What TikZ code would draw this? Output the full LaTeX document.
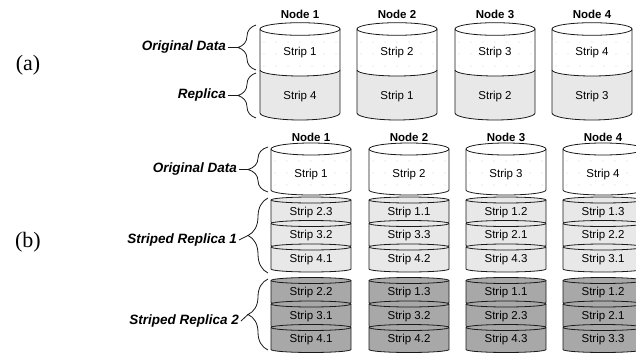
\documentclass[tikz,border=0pt]{standalone}
\usepackage{fontspec}
\setmainfont{Liberation Sans}
\newfontfamily\partfont{Liberation Serif}
\usetikzlibrary{decorations.pathreplacing,calc}
\definecolor{edgegray}{RGB}{25,25,25}
\definecolor{replicalight}{RGB}{232,232,232}
\definecolor{replicadark}{RGB}{168,168,168}
\definecolor{dotgray}{RGB}{212,212,212}
\tikzset{
  cylline/.style={draw=edgegray,line width=0.8pt},
  striptext/.style={font=\fontsize{11.5}{13}\selectfont,inner sep=0pt},
  nodelabel/.style={font=\fontsize{11.5}{13}\selectfont\bfseries,inner sep=0pt},
  bracelabel/.style={font=\fontsize{13.5}{15}\selectfont\bfseries\itshape,anchor=east,inner sep=2pt},
  partlabel/.style={font=\fontsize{22}{24}\selectfont\partfont,inner sep=0pt},
  databrace/.style={decorate,decoration={brace,amplitude=#1},draw=edgegray,line width=0.8pt},
  leadline/.style={draw=edgegray,line width=0.8pt}
}

\begin{document}
\begin{tikzpicture}[x=1pt,y=1pt]
\useasboundingbox (0,0) rectangle (636,-353);

% ---------- (a) ----------
\node[partlabel] (part-a) at (28,-65) {(a)};
\foreach \i/\cx/\stA/\stB in {1/300/1/4,2/397/2/1,3/495/3/2,4/592/4/3}{
  % original data part, white with faint dots
  \fill[white] (\cx-40,-29) -- (\cx-40,-70)
    arc[start angle=180,end angle=360,x radius=40,y radius=6]
    -- (\cx+40,-29) arc[start angle=0,end angle=180,x radius=40,y radius=6.3] -- cycle;
  \begin{scope}
    \clip (\cx-40,-29) -- (\cx-40,-70)
      arc[start angle=180,end angle=360,x radius=40,y radius=6] -- (\cx+40,-29) -- cycle;
    \foreach \dx in {-36,-24,...,36}
      \foreach \dy in {-42,-54,-66}
        \fill[dotgray] (\cx+\dx,\dy) circle (0.55);
  \end{scope}
  % replica part
  \fill[replicalight] (\cx-40,-70)
    arc[start angle=180,end angle=360,x radius=40,y radius=6]
    -- (\cx+40,-113) arc[start angle=0,end angle=-180,x radius=40,y radius=7] -- cycle;
  \draw[cylline] (\cx,-29) ellipse[x radius=40,y radius=6.3];
  \draw[cylline] (\cx-40,-29) -- (\cx-40,-113)
    arc[start angle=180,end angle=360,x radius=40,y radius=7] -- (\cx+40,-29);
  \draw[cylline] (\cx-40,-70) arc[start angle=180,end angle=360,x radius=40,y radius=6];
  \node[nodelabel] (a-n\i) at (\cx,-14) {Node \i};
  \node[striptext] (a-od\i) at (\cx,-53) {Strip \stA};
  \node[striptext] (a-rp\i) at (\cx,-97) {Strip \stB};
}

% braces (a)
\coordinate (a-od-bot) at (256,-70);
\coordinate (a-od-top) at (256,-25);
\coordinate (a-od-tip) at (238,-47.5);
\coordinate (a-rp-bot) at (256,-118);
\coordinate (a-rp-top) at (256,-73);
\coordinate (a-rp-tip) at (238,-95.5);
\draw[databrace=18pt] (a-od-bot) -- (a-od-top);
\draw[databrace=18pt] (a-rp-bot) -- (a-rp-top);
\node[bracelabel] (a-od-lbl) at (228,-47.5) {Original Data};
\node[bracelabel] (a-rp-lbl) at (228,-95.5) {Replica};
\draw[leadline] (a-od-lbl.east) -- (a-od-tip);
\draw[leadline] (a-rp-lbl.east) -- (a-rp-tip);

% ---------- (b) ----------
\node[partlabel] (part-b) at (28,-242) {(b)};
\foreach \i/\cx/\ra/\rb/\rc/\sa/\sb/\sc in
  {1/311/2.3/3.2/4.1/2.2/3.1/4.1,2/409/1.1/3.3/4.2/1.3/3.2/4.2,
   3/506/1.2/2.1/4.3/1.1/2.3/4.3,4/603/1.3/2.2/3.1/1.2/2.1/3.3}{
  % original data cylinder
  \fill[white] (\cx-40,-149) -- (\cx-40,-190)
    arc[start angle=180,end angle=360,x radius=40,y radius=5] -- (\cx+40,-149) -- cycle;
  \begin{scope}
    \clip (\cx-40,-149) -- (\cx-40,-190)
      arc[start angle=180,end angle=360,x radius=40,y radius=5] -- (\cx+40,-149) -- cycle;
    \foreach \dx in {-36,-24,...,36}
      \foreach \dy in {-161,-173,-185}
        \fill[dotgray] (\cx+\dx,\dy) circle (0.55);
  \end{scope}
  \draw[cylline,fill=white] (\cx,-149) ellipse[x radius=40,y radius=6];
  \draw[cylline] (\cx-40,-149) -- (\cx-40,-190)
    arc[start angle=180,end angle=360,x radius=40,y radius=5] -- (\cx+40,-149);
  \node[nodelabel] (b-n\i) at (\cx,-137) {Node \i};
  \node[striptext] (b-od\i) at (\cx,-175) {Strip \i};
  % striped replicas, three disks each
  \foreach \grp/\ytop/\col/\la/\lb/\lc in
    {1/-200/replicalight/\ra/\rb/\rc,2/-280.5/replicadark/\sa/\sb/\sc}{
    \foreach \k/\lbl in {0/\la,1/\lb,2/\lc}{
      \pgfmathsetmacro\yt{\ytop-23.5*\k}
      \filldraw[cylline,fill=\col] (\cx-40,\yt) -- (\cx-40,\yt-22)
        arc[start angle=180,end angle=360,x radius=40,y radius=3]
        -- (\cx+40,\yt) arc[start angle=0,end angle=180,x radius=40,y radius=3] -- cycle;
      \draw[cylline] (\cx-40,\yt) arc[start angle=180,end angle=360,x radius=40,y radius=3];
      \node[striptext] (b-r\grp-\i-\k) at (\cx,\yt-12.5) {Strip \lbl};
    }
  }
}

% braces (b)
\coordinate (b-od-bot) at (268,-192);
\coordinate (b-od-top) at (268,-147);
\coordinate (b-od-tip) at (248,-169.5);
\coordinate (b-r1-bot) at (268,-273);
\coordinate (b-r1-top) at (268,-198);
\coordinate (b-r1-tip) at (248,-235.5);
\coordinate (b-r2-bot) at (268,-350);
\coordinate (b-r2-top) at (268,-279);
\coordinate (b-r2-tip) at (248,-314.5);
\draw[databrace=20pt] (b-od-bot) -- (b-od-top);
\draw[databrace=20pt] (b-r1-bot) -- (b-r1-top);
\draw[databrace=20pt] (b-r2-bot) -- (b-r2-top);
\node[bracelabel] (b-od-lbl) at (239,-169.5) {Original Data};
\node[bracelabel] (b-r1-lbl) at (239,-240) {Striped Replica 1};
\node[bracelabel] (b-r2-lbl) at (241,-321) {Striped Replica 2};
\draw[leadline] (b-od-lbl.east) -- (b-od-tip);
\draw[leadline] (b-r1-lbl.east) -- (b-r1-tip);
\draw[leadline] (b-r2-lbl.east) -- (b-r2-tip);
\end{tikzpicture}
\end{document}
